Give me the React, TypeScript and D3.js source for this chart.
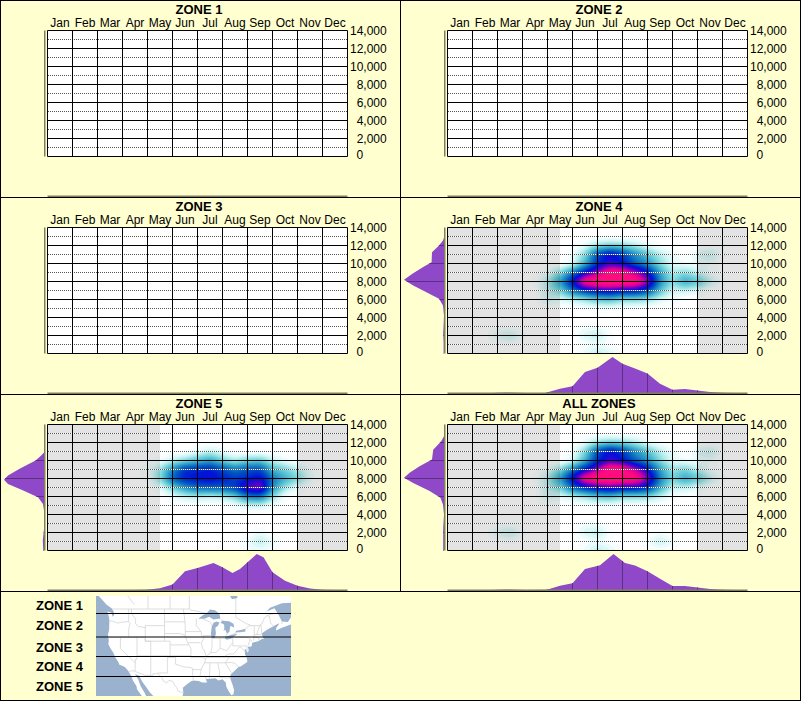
import { useMemo } from 'react'
import * as d3 from 'd3'

const months = ['Jan', 'Feb', 'Mar', 'Apr', 'May', 'Jun', 'Jul', 'Aug', 'Sep', 'Oct', 'Nov', 'Dec']
const elevTicks = [0, 2000, 4000, 6000, 8000, 10000, 12000, 14000]
const elevDots = [1000, 3000, 5000, 7000, 9000, 11000, 13000]
const zoneNames = ['ZONE 1', 'ZONE 2', 'ZONE 3', 'ZONE 4', 'ZONE 5', 'ALL ZONES']
const legendNames = ['ZONE 1', 'ZONE 2', 'ZONE 3', 'ZONE 4', 'ZONE 5']
const legendBaselines = [610, 630, 652, 671, 691]
const legendLines = [613.5, 637, 656.5, 676.5]

// density, rows 14000 ft down to 0, columns every half month
const zone4Heat = [
  [0,0,0,0,0,0,0,0,0,0,0,0,0,0,0,0,0,0,0,0,0,0,0,0,0],
  [0,0,0,0,0,0,0,0,0,0,0,0,0,0,0,0,0,0,0,0,0,0,0,0,0],
  [0,0,0,0,0,0,0,0,0,0,0,4,12,16,14,10,4,1,0,0,0,0,0,0,0],
  [0,0,0,0,0,0,0,0,0,0,3,15,42,55,45,30,20,10,4,0,6,10,2,0,0],
  [0,0,0,0,0,0,0,0,0,0,4,22,45,55,50,36,28,14,5,3,2,3,0,0,0],
  [0,0,0,0,0,0,0,0,4,14,32,50,68,92,88,72,52,25,10,14,8,2,0,0,0],
  [0,0,0,0,0,0,0,2,10,28,52,90,98,100,98,95,70,30,14,26,20,10,2,0,0],
  [0,0,0,0,0,0,0,0,9,16,34,45,52,55,50,50,42,20,7,8,5,0,0,0,0],
  [0,0,0,0,0,0,0,0,7,5,8,12,18,20,14,14,12,6,2,0,0,0,0,0,0],
  [0,0,0,0,0,0,0,0,1,0,0,1,2,2,1,1,0,0,0,0,0,0,0,0,0],
  [0,0,0,0,0,0,0,0,0,0,0,0,0,0,0,0,0,0,0,0,0,0,0,0,0],
  [0,0,0,0,0,0,0,0,0,0,0,2,2,0,0,0,0,0,0,0,0,0,0,0,0],
  [0,0,0,0,6,10,2,0,0,0,0,7,10,2,0,0,0,0,0,0,0,0,0,0,0],
  [0,0,0,0,0,1,0,0,0,0,0,1,3,1,0,0,0,0,0,0,0,0,0,0,0],
  [0,0,0,0,0,0,0,0,0,0,0,4,10,6,0,0,0,0,0,0,0,0,0,0,0],
]
const zone5Heat = [
  [0,0,0,0,0,0,0,0,0,0,0,0,0,0,0,0,0,0,0,0,0,0,0,0,0],
  [0,0,0,0,0,0,0,0,0,0,0,0,0,0,0,0,0,0,0,0,0,0,0,0,0],
  [0,0,0,0,0,0,0,0,0,0,0,0,0,0,0,0,0,0,0,0,0,0,0,0,0],
  [0,0,0,0,0,0,0,0,0,0,0,0,4,8,4,0,0,0,0,0,0,0,0,0,0],
  [0,0,0,0,0,0,0,0,0,2,8,14,20,26,16,10,16,18,8,4,0,0,0,0,0],
  [0,0,0,0,0,0,0,0,3,12,30,46,48,50,42,34,40,42,22,16,10,3,0,0,0],
  [0,0,0,0,0,0,0,0,2,14,38,50,52,54,50,44,48,54,34,24,16,5,0,0,0],
  [0,0,0,0,0,0,0,0,0,4,16,28,36,38,38,44,62,68,30,12,4,0,0,0,0],
  [0,0,0,0,0,0,0,0,0,0,4,8,10,8,10,16,32,34,14,2,0,0,0,0,0],
  [0,0,0,0,0,0,0,0,0,0,0,0,0,0,0,2,6,7,2,0,0,0,0,0,0],
  [0,0,0,0,0,0,0,0,0,0,0,0,0,0,0,0,0,0,0,0,0,0,0,0,0],
  [0,0,0,0,0,0,0,0,0,0,0,0,0,0,0,0,0,0,0,0,0,0,0,0,0],
  [0,0,0,0,0,0,0,0,0,0,0,0,0,0,0,0,0,3,0,0,0,0,0,0,0],
  [0,0,0,0,0,0,0,0,0,0,0,0,0,0,0,0,4,10,5,0,0,0,0,0,0],
  [0,0,0,0,0,0,0,0,0,0,0,0,0,0,0,0,2,3,1,0,0,0,0,0,0],
]
const allHeat = [
  [0,0,0,0,0,0,0,0,0,0,0,0,0,0,0,0,0,0,0,0,0,0,0,0,0],
  [0,0,0,0,0,0,0,0,0,0,0,0,0,0,0,0,0,0,0,0,0,0,0,0,0],
  [0,0,0,0,0,0,0,0,0,0,0,4,12,16,14,10,4,1,0,0,0,0,0,0,0],
  [0,0,0,0,0,0,0,0,0,0,3,15,42,55,45,30,20,10,4,0,6,10,2,0,0],
  [0,0,0,0,0,0,0,0,0,0,4,22,45,56,50,36,28,14,5,3,2,3,0,0,0],
  [0,0,0,0,0,0,0,0,4,14,32,50,68,96,90,72,52,26,12,16,9,2,0,0,0],
  [0,0,0,0,0,0,0,2,10,28,54,88,98,100,98,94,68,32,16,26,20,10,2,0,0],
  [0,0,0,0,0,0,0,0,9,16,36,46,54,58,52,52,46,24,8,9,5,0,0,0,0],
  [0,0,0,0,0,0,0,0,7,5,8,12,18,20,14,14,14,8,2,0,0,0,0,0,0],
  [0,0,0,0,0,0,0,0,1,0,0,1,2,2,1,1,0,0,0,0,0,0,0,0,0],
  [0,0,0,0,0,0,0,0,0,0,0,0,0,0,0,0,0,0,0,0,0,0,0,0,0],
  [0,0,0,0,0,0,0,0,0,0,0,2,2,0,0,0,0,0,0,0,0,0,0,0,0],
  [0,0,0,0,6,10,2,0,0,0,0,7,10,2,0,0,0,2,0,0,0,0,0,0,0],
  [0,0,0,0,0,1,0,0,0,0,0,1,3,1,0,0,3,9,4,0,0,0,0,0,0],
  [0,0,0,0,0,0,0,0,0,0,0,4,10,6,0,0,0,1,0,0,0,0,0,0,0],
]

// monthly totals: [month position, percent of peak]
const zone4Months = [[0,0],[1.8,0],[2.3,1.5],[2.8,1],[3.1,0],[3.9,0],[4.5,12],[5,19],[5.5,58],[6,70],[6.6,100],[7,81],[7.5,68],[8,54],[8.5,26],[9,9],[9.5,11],[10,7],[10.5,3],[11,1],[11.5,0],[12,0]]
const zone5Months = [[0,0],[3.4,0],[3.97,1],[4.5,5],[5,15],[5.5,52],[6,61],[6.64,75],[7,63],[7.4,47],[7.7,58],[8,77],[8.37,100],[8.64,91],[9,49],[9.5,26],[10,12],[10.5,4],[11,1],[11.5,0],[12,0]]
const allMonths = [[0,0],[1.8,0],[2.3,1.5],[2.8,1],[3.1,0],[3.97,1],[4.5,12],[5,19],[5.5,58],[6.1,69],[6.64,100],[7.1,75],[7.5,68],[8,52],[8.5,31],[9,11],[9.5,11],[10,7],[10.5,3],[11,1],[11.5,0],[12,0]]

// elevation totals: [elevation, percent of peak]
const zone4Elev = [[14000,0],[12900,0],[12550,2.5],[12000,12.5],[11250,30],[10150,31],[9600,52],[8850,79],[8200,100],[7550,77],[6800,44],[6070,12.5],[5330,2.5],[4200,0],[3100,1],[2200,2],[1250,1],[0,1]]
const zone5Elev = [[14000,0],[10900,0],[10550,7],[10000,21],[9070,61],[8330,90],[7850,100],[7400,90],[6670,52],[5930,15],[5180,2.5],[4440,0],[2400,0],[1100,3],[200,2],[0,2]]
const allElev = [[14000,0],[12700,0],[12150,7],[11200,27],[10100,30],[9370,61],[8630,86],[8070,100],[7500,77],[6600,36],[5850,9],[5100,2.5],[4000,0],[2500,2],[300,2],[0,2]]

const zoneData = [
  null,
  null,
  null,
  { heat: zone4Heat, bottom: zone4Months, left: zone4Elev },
  { heat: zone5Heat, bottom: zone5Months, left: zone5Elev },
  { heat: allHeat, bottom: allMonths, left: allElev },
]

const heatStops = [0, 6, 15, 26, 38, 50, 62, 74, 86]
const heatColors = ['#ffffff', '#d4f6f6', '#74d4da', '#2a9cc8', '#0058c0', '#0010d8', '#6800c8', '#e00098', '#ff0c80']
const heatLevels = d3.range(1, 100, 2)
const color = d3.scaleLinear<string>().domain(heatStops).range(heatColors).clamp(true)

// map outlines, [lon, lat]
const landOutline = [[-132,58],[-130,56],[-128,52],[-125,50],[-123.2,49.2],[-122.5,48.5],[-122.3,47.6],[-122.8,47.2],[-123.2,48.1],[-124.7,48.4],[-124.1,46.9],[-124,46.2],[-124.1,44],[-124.5,42.8],[-124.2,41],[-124.4,40.3],[-123.8,39.3],[-122.5,37.8],[-121.9,36.6],[-120.6,35],[-120.5,34.5],[-119.2,34.1],[-118.4,33.8],[-117.2,32.7],[-116,31],[-115.5,29.7],[-114.2,28],[-114,27],[-112.3,25],[-110,23],[-109.5,23.2],[-110.5,24.5],[-111.3,26],[-112.7,28],[-113.5,30],[-114.7,31.7],[-113.2,31.2],[-112.2,29.5],[-110.8,27.9],[-109.3,26],[-108,24.8],[-106,22.5],[-105.3,20],[-97,19],[-97.2,22],[-97.7,24],[-97.2,26],[-97.4,27.5],[-96,28.5],[-94.7,29.4],[-93.8,29.7],[-92,29.6],[-90.8,29.1],[-89.2,29.1],[-89.6,30.2],[-88,30.3],[-86.5,30.4],[-85.3,29.7],[-84,30.1],[-82.9,29.1],[-82.7,27.8],[-81.8,26.2],[-81,25.1],[-80.3,25.4],[-80.1,26.8],[-80.6,28.4],[-81.4,30.4],[-81.2,31.6],[-79.9,32.7],[-78.6,33.8],[-77.9,33.9],[-76.5,34.7],[-75.6,35.3],[-76,36.9],[-76.4,37.2],[-76.5,39],[-76,38.6],[-75.6,37.9],[-75.1,38.5],[-75.5,39.5],[-74.2,39.6],[-74,40.6],[-72,41],[-70.7,41.6],[-70,41.7],[-70.6,42.3],[-70.7,43.1],[-69,44],[-67,44.8],[-66,45.2],[-64.8,45.6],[-65.9,44.5],[-66,43.8],[-64,44.5],[-61,45.3],[-60,46.2],[-61,47],[-62,45.9],[-64,46],[-65,47.5],[-66.5,49.2],[-69,48.5],[-71,47],[-68,49.3],[-64,50.3],[-59,50.5],[-55,52],[-60,58]]
const waterBodies = [
  [[-92.1,46.7],[-90.5,47.6],[-89.3,48],[-88.2,48.9],[-86.5,48.7],[-85,47.9],[-84.7,46.7],[-85.5,46.7],[-87,46.5],[-88.5,47.2],[-90,46.7]],
  [[-87.5,41.7],[-86.6,41.9],[-86.2,43],[-86.4,44.5],[-85.5,45],[-85,45.8],[-86,46],[-87,45.7],[-87.6,44.8],[-87.9,43],[-87.7,42]],
  [[-84.7,45.8],[-83.4,45.2],[-83.4,44],[-83.9,43.7],[-83,43.9],[-82.5,43],[-81.7,43.4],[-81.3,45],[-80,44.5],[-80.3,45.5],[-81.8,46.1],[-84,46.2]],
  [[-83.4,41.8],[-82.5,41.4],[-81,41.7],[-79,42.8],[-79.3,42.9],[-81,42.6],[-83,42.1]],
  [[-79.8,43.3],[-78,43.3],[-76.3,43.5],[-76.3,44.2],[-77.5,43.95],[-79.3,43.7]],
  [[-81.5,55],[-82,52.5],[-80.8,51.2],[-79,51.5],[-79,54.5]],
]
const stateLines = [
  [[-123,49],[-95.15,49],[-94.6,48.7],[-93,48.6],[-91,48.2],[-89.5,48]],
  [[-84.5,46.5],[-83.5,46],[-82.4,43],[-83,42],[-79,43.3]],
  [[-76.3,44.2],[-75,45],[-71.5,45],[-70.8,45.4],[-70,46.7],[-69.2,47.4],[-68.2,47.3],[-67.8,45.7],[-67,44.9]],
  [[-117.1,32.5],[-114.7,32.7],[-114.8,32.5],[-111,31.3],[-108.2,31.3],[-108.2,31.8],[-106.5,31.8],[-104.9,30.6],[-104.5,29.6],[-103.2,29],[-102.4,29.8],[-101,29.4],[-100.3,28.3],[-99.5,27.5],[-99.1,26.4],[-97.2,25.95]],
  [[-124,46.2],[-123,46.1],[-121,45.65],[-119,45.9],[-117,46]],
  [[-117,49],[-117,46],[-116.5,45.5],[-117,44.3],[-117,42]],
  [[-124.2,42],[-111,42]],
  [[-120,42],[-120,39],[-114.6,35]],
  [[-114,42],[-114,36],[-114.7,36],[-114.6,35],[-114.7,32.7]],
  [[-114,37],[-94.6,37]],
  [[-111,42],[-111,41],[-109,41],[-109,31.3]],
  [[-116,49],[-116,48],[-114.5,46.6],[-114.5,45.5],[-113.5,44.8],[-111,44.5]],
  [[-111,45],[-104,45],[-104,41],[-111,41],[-111,45]],
  [[-104,49],[-104,45]],
  [[-104,45.94],[-96.6,45.94]],
  [[-104,43],[-98.5,43],[-96.5,42.5]],
  [[-104,41],[-102,41],[-102,40],[-95.3,40]],
  [[-102,40],[-102,37]],
  [[-103,37],[-103,32],[-106.6,32]],
  [[-103,36.5],[-100,36.5],[-100,34.6],[-97,33.8],[-94.5,33.6],[-94,33]],
  [[-94,33.5],[-94,31.5],[-93.8,29.7]],
  [[-94,33],[-91.2,33]],
  [[-94.6,36.5],[-90.2,36.5],[-90,36]],
  [[-94.6,39.1],[-94.6,36.5]],
  [[-97.2,49],[-96.6,46],[-96.5,43.5],[-96.5,42.5],[-95.9,41],[-95.3,40],[-94.6,39.1]],
  [[-96.5,43.5],[-91.2,43.5]],
  [[-95.8,40.6],[-91.5,40.6]],
  [[-92.8,46.7],[-92.8,45],[-91.2,43.5],[-91,42.5],[-90.2,41.8],[-91.1,40.6],[-90.7,39],[-90.2,38.7],[-89.5,37],[-89.5,36.5],[-90,35],[-91,33.5],[-91.6,31],[-89.7,31],[-89.6,30.2]],
  [[-90.6,42.5],[-87.8,42.5]],
  [[-90.4,46.6],[-88,45.8],[-87.6,45.1]],
  [[-87.5,41.7],[-87.5,39.3],[-88,37.8]],
  [[-89.2,37],[-88,37.8],[-86,38],[-84.8,39.1],[-82.6,38.4],[-80.6,40.6]],
  [[-84.8,41.7],[-84.8,39.1]],
  [[-87,41.75],[-83.4,41.75]],
  [[-80.5,42],[-80.5,39.72]],
  [[-79.8,42],[-75.4,42],[-74.7,41.4],[-75.4,39.8]],
  [[-80.5,39.72],[-75.8,39.72],[-75.7,38.5],[-75.1,38.5]],
  [[-74.7,41.4],[-74,41]],
  [[-89.5,36.5],[-75.9,36.55]],
  [[-83.7,36.6],[-82,37.5],[-80.3,37.5],[-78.3,39.4],[-77.7,39.3],[-77,38.7],[-76.3,38]],
  [[-90.2,35],[-83.1,35],[-81.7,36.55]],
  [[-83.1,35],[-81,35.1],[-79.7,34.8],[-78.6,33.8]],
  [[-83.1,35],[-81,32.1]],
  [[-85.6,35],[-85,32.5],[-85,31]],
  [[-87.6,31],[-85,31],[-84.9,30.7],[-82.2,30.5],[-81.4,30.7]],
  [[-88.2,35],[-88.4,30.3]],
  [[-73.3,45],[-73.3,42.7],[-73.5,41.2]],
  [[-73.3,42.7],[-70.8,42.8]],
  [[-73.5,42],[-71.8,42],[-71.8,41.3]],
  [[-71.1,45.3],[-70.8,43.1]],
  [[-71.5,45],[-72.5,42.7]],
  [[-110,49],[-110,58]],
  [[-102,49],[-102,58]],
  [[-95.15,49],[-95.15,53]],
  [[-115,50],[-120,54]],
  [[-79.5,47],[-79.5,52]],
  [[-79.5,47],[-76,45.5],[-74.3,45]],
  [[-69,47.5],[-66.5,48]],
  [[-64,46],[-64,45.4]],
]

const monthEdges = d3.range(0, 13)

function densityPaths(heat: number[][]) {
  const w = 300
  const h = 126
  const pixels = new Float64Array(w * h)
  for (let py = 0; py < h; py++) {
    const rowPos = ((py + 0.5) / h) * 14
    const r0 = Math.min(13, Math.floor(rowPos))
    const rt = rowPos - r0
    for (let px = 0; px < w; px++) {
      const colPos = ((px + 0.5) / w) * 24
      const c0 = Math.min(23, Math.floor(colPos))
      const ct = colPos - c0
      const top = heat[r0][c0] * (1 - ct) + heat[r0][c0 + 1] * ct
      const bot = heat[r0 + 1][c0] * (1 - ct) + heat[r0 + 1][c0 + 1] * ct
      pixels[py * w + px] = top * (1 - rt) + bot * rt
    }
  }
  d3.blur2({ data: pixels, width: w, height: h }, 2)
  const contours = d3.contours().size([w, h]).smooth(true).thresholds(heatLevels)(pixels as any)
  const path = d3.geoPath()
  return contours.map(c => ({ value: c.value, d: path(c) || '' }))
}

function Panel({ index }: { index: number }) {
  const dx = index % 2 === 1 ? 400 : 0
  const dy = Math.floor(index / 2) * 197
  const data = zoneData[index]
  const x = d3.scaleLinear().domain([0, 12]).range([47.5, 347.5])
  const y = d3.scaleLinear().domain([0, 14000]).range([156.5, 30.5])
  const bottomY = d3.scaleLinear().domain([0, 100]).range([196, 160])
  const leftX = d3.scaleLinear().domain([0, 100]).range([44, 4])
  const fmt = d3.format(',')

  const bands = useMemo(() => (data ? densityPaths(data.heat) : []), [data])
  const bottomPath = data
    ? d3.area<number[]>().x(d => x(d[0])).y0(bottomY(0)).y1(d => bottomY(d[1]))(data.bottom) || ''
    : ''
  const leftPath = data
    ? d3.area<number[]>().y(d => y(d[0])).x0(leftX(0)).x1(d => leftX(d[1]))(data.left) || ''
    : ''

  return (
    <g transform={`translate(${dx},${dy})`}>
      <text x={199} y={14} textAnchor="middle" fontWeight="bold" fontSize={13}>{zoneNames[index]}</text>
      {months.map((m, i) => (
        <text key={m} x={x(i + 0.5)} y={27} textAnchor="middle" fontSize={12}>{m}</text>
      ))}
      <rect x={x(0)} y={y(14000)} width={x(12) - x(0)} height={y(0) - y(14000)} fill="#ffffff" />
      {data && (
        <g transform={`translate(${x(0)},${y(14000)})`}>
          {bands.map(b => (
            <path key={b.value} d={b.d} fill={color(b.value)} />
          ))}
        </g>
      )}
      {data && (
        <>
          <rect x={x(0)} y={y(14000)} width={x(4.5) - x(0)} height={y(0) - y(14000)} fill="#000000" opacity={0.11} />
          <rect x={x(10)} y={y(14000)} width={x(12) - x(10)} height={y(0) - y(14000)} fill="#000000" opacity={0.11} />
        </>
      )}
      {elevDots.map(e => (
        <g key={e}>
          <line x1={48} x2={347} y1={y(e)} y2={y(e)} stroke="#ffffff" />
          <line x1={48} x2={347} y1={y(e)} y2={y(e)} stroke="#555555" strokeDasharray="1 1" />
        </g>
      ))}
      {elevTicks.map(e => (
        <line key={e} x1={x(0)} x2={x(12)} y1={y(e)} y2={y(e)} stroke="#000000" />
      ))}
      {monthEdges.map(m => (
        <line key={m} x1={x(m)} x2={x(m)} y1={y(14000)} y2={y(0)} stroke="#000000" />
      ))}
      {elevTicks.map(e =>
        e === 0 ? (
          <text key={e} x={356.5} y={159} fontSize={12}>0</text>
        ) : (
          <text key={e} x={386.7} y={y(e) + 4.5} textAnchor="end" fontSize={12}>{fmt(e)}</text>
        )
      )}
      {data && (
        <>
          <clipPath id={`bottom-${index}`}><path d={bottomPath} /></clipPath>
          <clipPath id={`left-${index}`}><path d={leftPath} /></clipPath>
          <path d={bottomPath} fill="#8e48c8" />
          <path d={leftPath} fill="#8e48c8" />
          <g clipPath={`url(#bottom-${index})`}>
            {monthEdges.map(m => (
              <line key={m} x1={x(m)} x2={x(m)} y1={bottomY(100)} y2={bottomY(0)} stroke="#5c3080" />
            ))}
          </g>
          <g clipPath={`url(#left-${index})`}>
            {elevTicks.map(e => (
              <line key={e} x1={leftX(100)} x2={leftX(0)} y1={y(e)} y2={y(e)} stroke="#5c3080" />
            ))}
          </g>
        </>
      )}
      <rect x={44} y={y(14000)} width={1.5} height={y(0) - y(14000)} fill="#80805c" />
      <rect x={x(0)} y={195.5} width={x(12) - x(0)} height={1.5} fill="#80805c" />
    </g>
  )
}

function ZoneMap() {
  const proj = d3.geoMercator()
  const p = (lon: number, lat: number) => proj([lon, lat]) as [number, number]
  const mx = d3.scaleLinear().domain([p(-124.5, 45)[0], p(-96.6, 45)[0], p(-67, 45)[0]]).range([108, 185, 273])
  const my = d3.scaleLinear().domain([p(-97, 49)[1], p(-81, 25.2)[1]]).range([609, 695])
  const line = d3.line<number[]>().x(d => mx(p(d[0], d[1])[0])).y(d => my(p(d[0], d[1])[1]))

  return (
    <g>
      <clipPath id="map-clip"><rect x={96} y={596} width={195} height={100} /></clipPath>
      <g clipPath="url(#map-clip)">
        <rect x={96} y={596} width={195} height={100} fill="#9ab2cd" />
        <path d={(line(landOutline) || '') + 'Z'} fill="#ffffff" />
        {stateLines.map((l, i) => (
          <path key={i} d={line(l) || ''} fill="none" stroke="#d4d4d4" strokeWidth={0.8} />
        ))}
        {waterBodies.map((l, i) => (
          <path key={i} d={(line(l) || '') + 'Z'} fill="#9ab2cd" />
        ))}
      </g>
      {legendLines.map(v => (
        <line key={v} x1={96} x2={291} y1={v} y2={v} stroke="#000000" />
      ))}
      {legendNames.map((n, i) => (
        <text key={n} x={36} y={legendBaselines[i]} fontWeight="bold" fontSize={13}>{n}</text>
      ))}
    </g>
  )
}

export default function App() {
  return (
    <svg
      width={801}
      height={701}
      style={{ position: 'absolute', left: 0, top: 0, fontFamily: '"Liberation Sans", Arial, sans-serif' }}
    >
      <rect x={0} y={0} width={801} height={701} fill="#ffffd0" />
      {zoneNames.map((z, i) => (
        <Panel key={z} index={i} />
      ))}
      <ZoneMap />
      <rect x={0.5} y={0.5} width={800} height={700} fill="none" stroke="#000000" />
      <line x1={400.5} x2={400.5} y1={0} y2={591} stroke="#000000" />
      <line x1={0} x2={801} y1={197.5} y2={197.5} stroke="#000000" />
      <line x1={0} x2={801} y1={394.5} y2={394.5} stroke="#000000" />
      <line x1={0} x2={801} y1={591.5} y2={591.5} stroke="#000000" />
    </svg>
  )
}
